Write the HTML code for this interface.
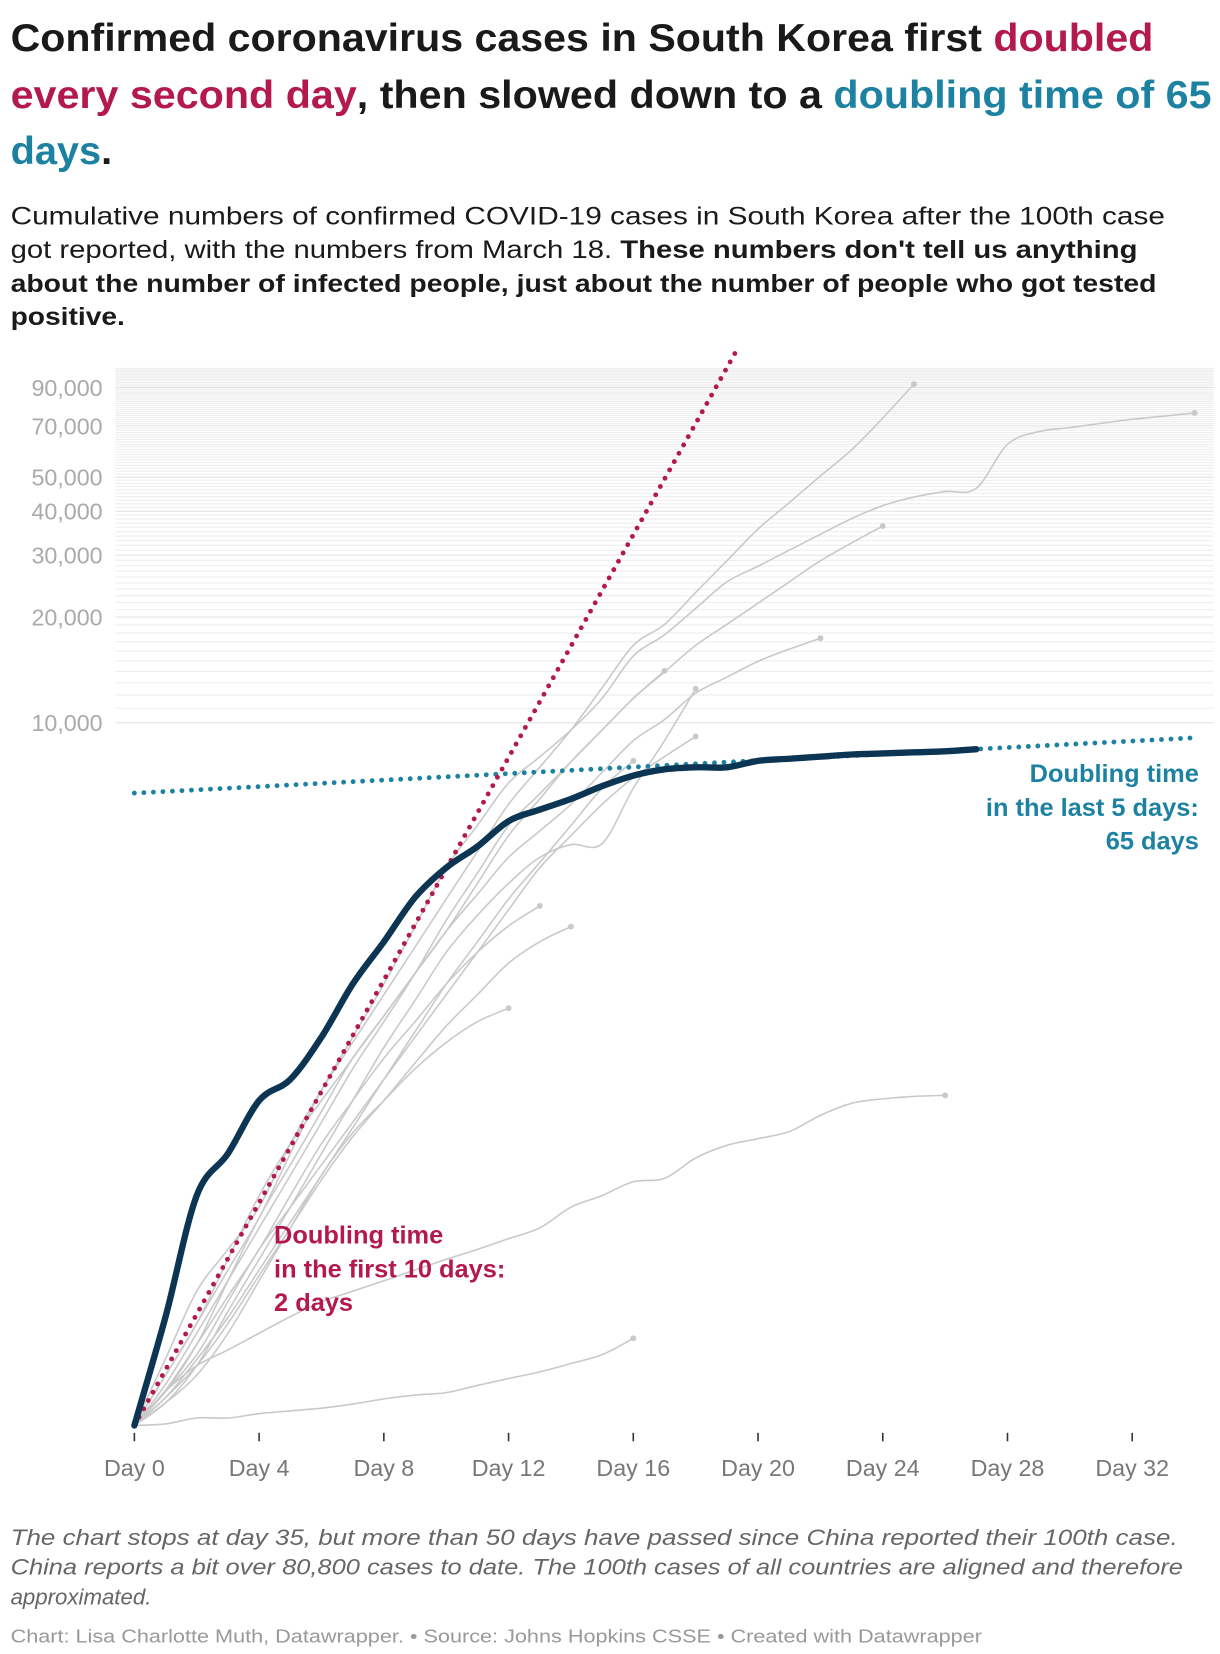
<!DOCTYPE html>
<html><head><meta charset="utf-8">
<style>
html,body{margin:0;padding:0;background:#fff;}
svg{display:block;}
text{font-family:"Liberation Sans",Arial,sans-serif;}
</style></head>
<body>
<svg id="chart" width="1220" height="1654" viewBox="0 0 1153 1563" preserveAspectRatio="none" xmlns="http://www.w3.org/2000/svg">
  <g font-weight="bold" font-size="37" fill="#1a1a1a">
    <text x="10" y="48" textLength="1080" lengthAdjust="spacingAndGlyphs">Confirmed coronavirus cases in South Korea first <tspan fill="#b3194b">doubled</tspan></text>
    <text x="10" y="102" textLength="1135" lengthAdjust="spacingAndGlyphs"><tspan fill="#b3194b">every second day</tspan>, then slowed down to a <tspan fill="#1d81a2">doubling time of 65</tspan></text>
    <text x="10" y="155" textLength="96" lengthAdjust="spacingAndGlyphs"><tspan fill="#1d81a2">days</tspan>.</text>
  </g>
  <g font-size="24" fill="#1a1a1a">
    <text x="10" y="212" textLength="1091" lengthAdjust="spacingAndGlyphs">Cumulative numbers of confirmed COVID-19 cases in South Korea after the 100th case</text>
    <text x="10" y="244" textLength="1065" lengthAdjust="spacingAndGlyphs">got reported, with the numbers from March 18. <tspan font-weight="bold">These numbers don't tell us anything</tspan></text>
    <text x="10" y="276" font-weight="bold" textLength="1083" lengthAdjust="spacingAndGlyphs">about the number of infected people, just about the number of people who got tested</text>
    <text x="10" y="307" font-weight="bold" textLength="108" lengthAdjust="spacingAndGlyphs">positive.</text>
  </g>
  <g id="grid"></g>
  <g id="yaxis"></g>
  <g id="xaxis"></g>
  <g id="others"></g>
  <g id="refs"></g>
  <g id="korea"></g>
  <g font-weight="bold" font-size="24" fill="#b3194b">
    <text x="259" y="1175">Doubling time</text>
    <text x="259" y="1207">in the first 10 days:</text>
    <text x="259" y="1239">2 days</text>
  </g>
  <g font-weight="bold" font-size="24" fill="#1d81a2" text-anchor="end">
    <text x="1133" y="739">Doubling time</text>
    <text x="1133" y="771">in the last 5 days:</text>
    <text x="1133" y="803">65 days</text>
  </g>
  <g font-size="21" font-style="italic" fill="#666">
    <text x="10" y="1460" textLength="1103" lengthAdjust="spacingAndGlyphs">The chart stops at day 35, but more than 50 days have passed since China reported their 100th case.</text>
    <text x="10" y="1488" textLength="1108" lengthAdjust="spacingAndGlyphs">China reports a bit over 80,800 cases to date. The 100th cases of all countries are aligned and therefore</text>
    <text x="10" y="1516">approximated.</text>
  </g>
  <text x="10" y="1552" font-size="17.5" fill="#999" textLength="918" lengthAdjust="spacingAndGlyphs">Chart: Lisa Charlotte Muth, Datawrapper. • Source: Johns Hopkins CSSE • Created with Datawrapper</text>
</svg>
<script>
const yTickValues = [10000, 20000, 30000, 40000, 50000, 70000, 90000];
const yTickLabels = ["10,000", "20,000", "30,000", "40,000", "50,000", "70,000", "90,000"];
const xTickDays = [0, 4, 8, 12, 16, 20, 24, 28, 32];
const xTickLabels = ["Day 0", "Day 4", "Day 8", "Day 12", "Day 16", "Day 20", "Day 24", "Day 28", "Day 32"];
const koreaCases = [100,204,451,594,841,966,1274,1803,2380,3184,3866,4443,5248,5660,6070,6600,7070,7370,7470,7470,7790,7900,8010,8120,8180,8240,8290,8410];
const seriesA = [100,155,241,317,418,633,900,1230,1683,2300,3150,4300,5860,7470,9530,12570,16600,19050,23500,28900,35600,42300,50400,59800,73700,92000];
const seriesB = [100,139,195,277,390,594,900,1274,1803,2630,3866,5104,6735,8000,9530,11730,15480,17800,21160,25170,27900,31000,34400,38100,41500,43900,45500,46500,62000,67400,69200,71200,73100,74600,76200];
const seriesC = [100,139,195,297,451,633,841,1110,1464,1934,2553,3490,4770,6070,7740,9530,11730,13950,16600,19050,21900,25170,28900,32500,36300];
const seriesD = [100,125,170,258,390,552,783,1110,1464,1934,2553,3250,4140,4920,5860,7220,8890,10210,12140,13480,14950,16200,17400];
const seriesE = [100,131,183,258,365,515,729,1035,1410,1934,2740,3730,5100,6280,7740,9530,11730,14050];
const seriesF = [100,116,148,211,297,418,594,841,1190,1620,2222,2830,3490,4140,4500,4530,6510,8890,12490];
const seriesG = [100,125,159,225,317,418,552,729,966,1274,1683,2222,2934,3866,4770,5860,6970,8010,9140];
const seriesH = [100,120,154,203,277,379,515,703,966,1320,1803,2380,3150,4000,5100,6510,7790];
const seriesI = [100,126,170,233,317,451,633,841,1110,1410,1803,2222,2640,3010];
const seriesJ = [100,120,148,195,267,365,500,663,841,1075,1370,1683,2070,2380,2630];
const seriesK = [100,116,139,183,258,365,515,680,841,1035,1230,1410,1540];
const seriesL = [100,125,148,164,183,204,225,241,258,277,297,317,340,365,418,451,494,505,577,627,655,686,763,826,850,864,870];
const seriesM = [100,101,105,105,108,110,112,115,119,122,124,130,136,142,150,159,177];
const redStart = [100];
const redDoubling = [1.9];
const redEndDay = [19.3];
const blueAnchorDay = [27];
const blueAnchorValue = [8410];
const blueDoubling = [65];
const blueEndDay = [34.1];

const NS = "http://www.w3.org/2000/svg";
const X0 = 127, DX = 29.47, Y10K = 683, DEC = 332;
function xs(d){ return X0 + DX*d; }
function ys(v){ return Y10K - DEC*Math.log10(v/10000); }
function mk(tag, attrs, parent){ const e=document.createElementNS(NS,tag); for(const k in attrs) e.setAttribute(k,attrs[k]); parent.appendChild(e); return e; }
function smooth(pts){
  let d = "M"+pts[0][0].toFixed(1)+","+pts[0][1].toFixed(1);
  for(let i=0;i<pts.length-1;i++){
    const p0=pts[Math.max(0,i-1)], p1=pts[i], p2=pts[i+1], p3=pts[Math.min(pts.length-1,i+2)];
    const c1=[p1[0]+(p2[0]-p0[0])/6, p1[1]+(p2[1]-p0[1])/6];
    const c2=[p2[0]-(p3[0]-p1[0])/6, p2[1]-(p3[1]-p1[1])/6];
    d += " C"+c1[0].toFixed(1)+","+c1[1].toFixed(1)+" "+c2[0].toFixed(1)+","+c2[1].toFixed(1)+" "+p2[0].toFixed(1)+","+p2[1].toFixed(1);
  }
  return d;
}

const grid = document.getElementById("grid");
for(let v=10000; v<=102000; v+=1000){
  const y = ys(v);
  const major = yTickValues.indexOf(v) >= 0;
  const ln = mk("line",{x1:109,x2:1147,y1:y,y2:y,stroke: major?"#e2e2e2":"#eeeeee","stroke-width":1},grid);
  
  
}
const yax = document.getElementById("yaxis");
yTickValues.forEach((v,i)=>{
  const t = mk("text",{x:97,y:ys(v)+8,"text-anchor":"end","font-size":22,fill:"#aaaaaa"},yax);
  t.textContent = yTickLabels[i];
  
  
});
const xax = document.getElementById("xaxis");
xTickDays.forEach((d,i)=>{
  const tk = mk("line",{x1:xs(d),x2:xs(d),y1:1354,y2:1362,stroke:"#333","stroke-width":1.5},xax);
  
  
  const t = mk("text",{x:xs(d),y:1395,"text-anchor":"middle","font-size":22,fill:"#777"},xax);
  t.textContent = xTickLabels[i];
  
  
});
const others = document.getElementById("others");
[seriesA,seriesB,seriesC,seriesD,seriesE,seriesF,seriesG,seriesH,seriesI,seriesJ,seriesK,seriesL,seriesM].forEach(s=>{
  const pts = s.map((v,i)=>[xs(i),ys(v)]);
  const p = mk("path",{d:smooth(pts),fill:"none",stroke:"#c9c9c9","stroke-width":1.5},others);
  
  
  const last = pts[pts.length-1];
  const c = mk("circle",{cx:last[0],cy:last[1],r:2.8,fill:"#c9c9c9"},others);
  
  
});
const refs = document.getElementById("refs");
const bv0 = blueAnchorValue[0]*Math.pow(2,(0-blueAnchorDay[0])/blueDoubling[0]);
const bv1 = blueAnchorValue[0]*Math.pow(2,(blueEndDay[0]-blueAnchorDay[0])/blueDoubling[0]);
const blue = mk("line",{x1:xs(0),y1:ys(bv0),x2:xs(blueEndDay[0]),y2:ys(bv1),stroke:"#1d81a2","stroke-width":4.6,"stroke-linecap":"round","stroke-dasharray":"0 9"},refs);


const rv1 = redStart[0]*Math.pow(2,redEndDay[0]/redDoubling[0]);
const red = mk("line",{x1:xs(0),y1:ys(redStart[0]),x2:xs(redEndDay[0]),y2:ys(rv1),stroke:"#b3194b","stroke-width":4.6,"stroke-linecap":"round","stroke-dasharray":"0 9"},refs);


const kor = document.getElementById("korea");
const kp = koreaCases.map((v,i)=>[xs(i),ys(v)]);
const kl = mk("path",{d:smooth(kp),fill:"none",stroke:"#0b3553","stroke-width":6,"stroke-linecap":"round","stroke-linejoin":"round"},kor);


</script>
</body></html>
